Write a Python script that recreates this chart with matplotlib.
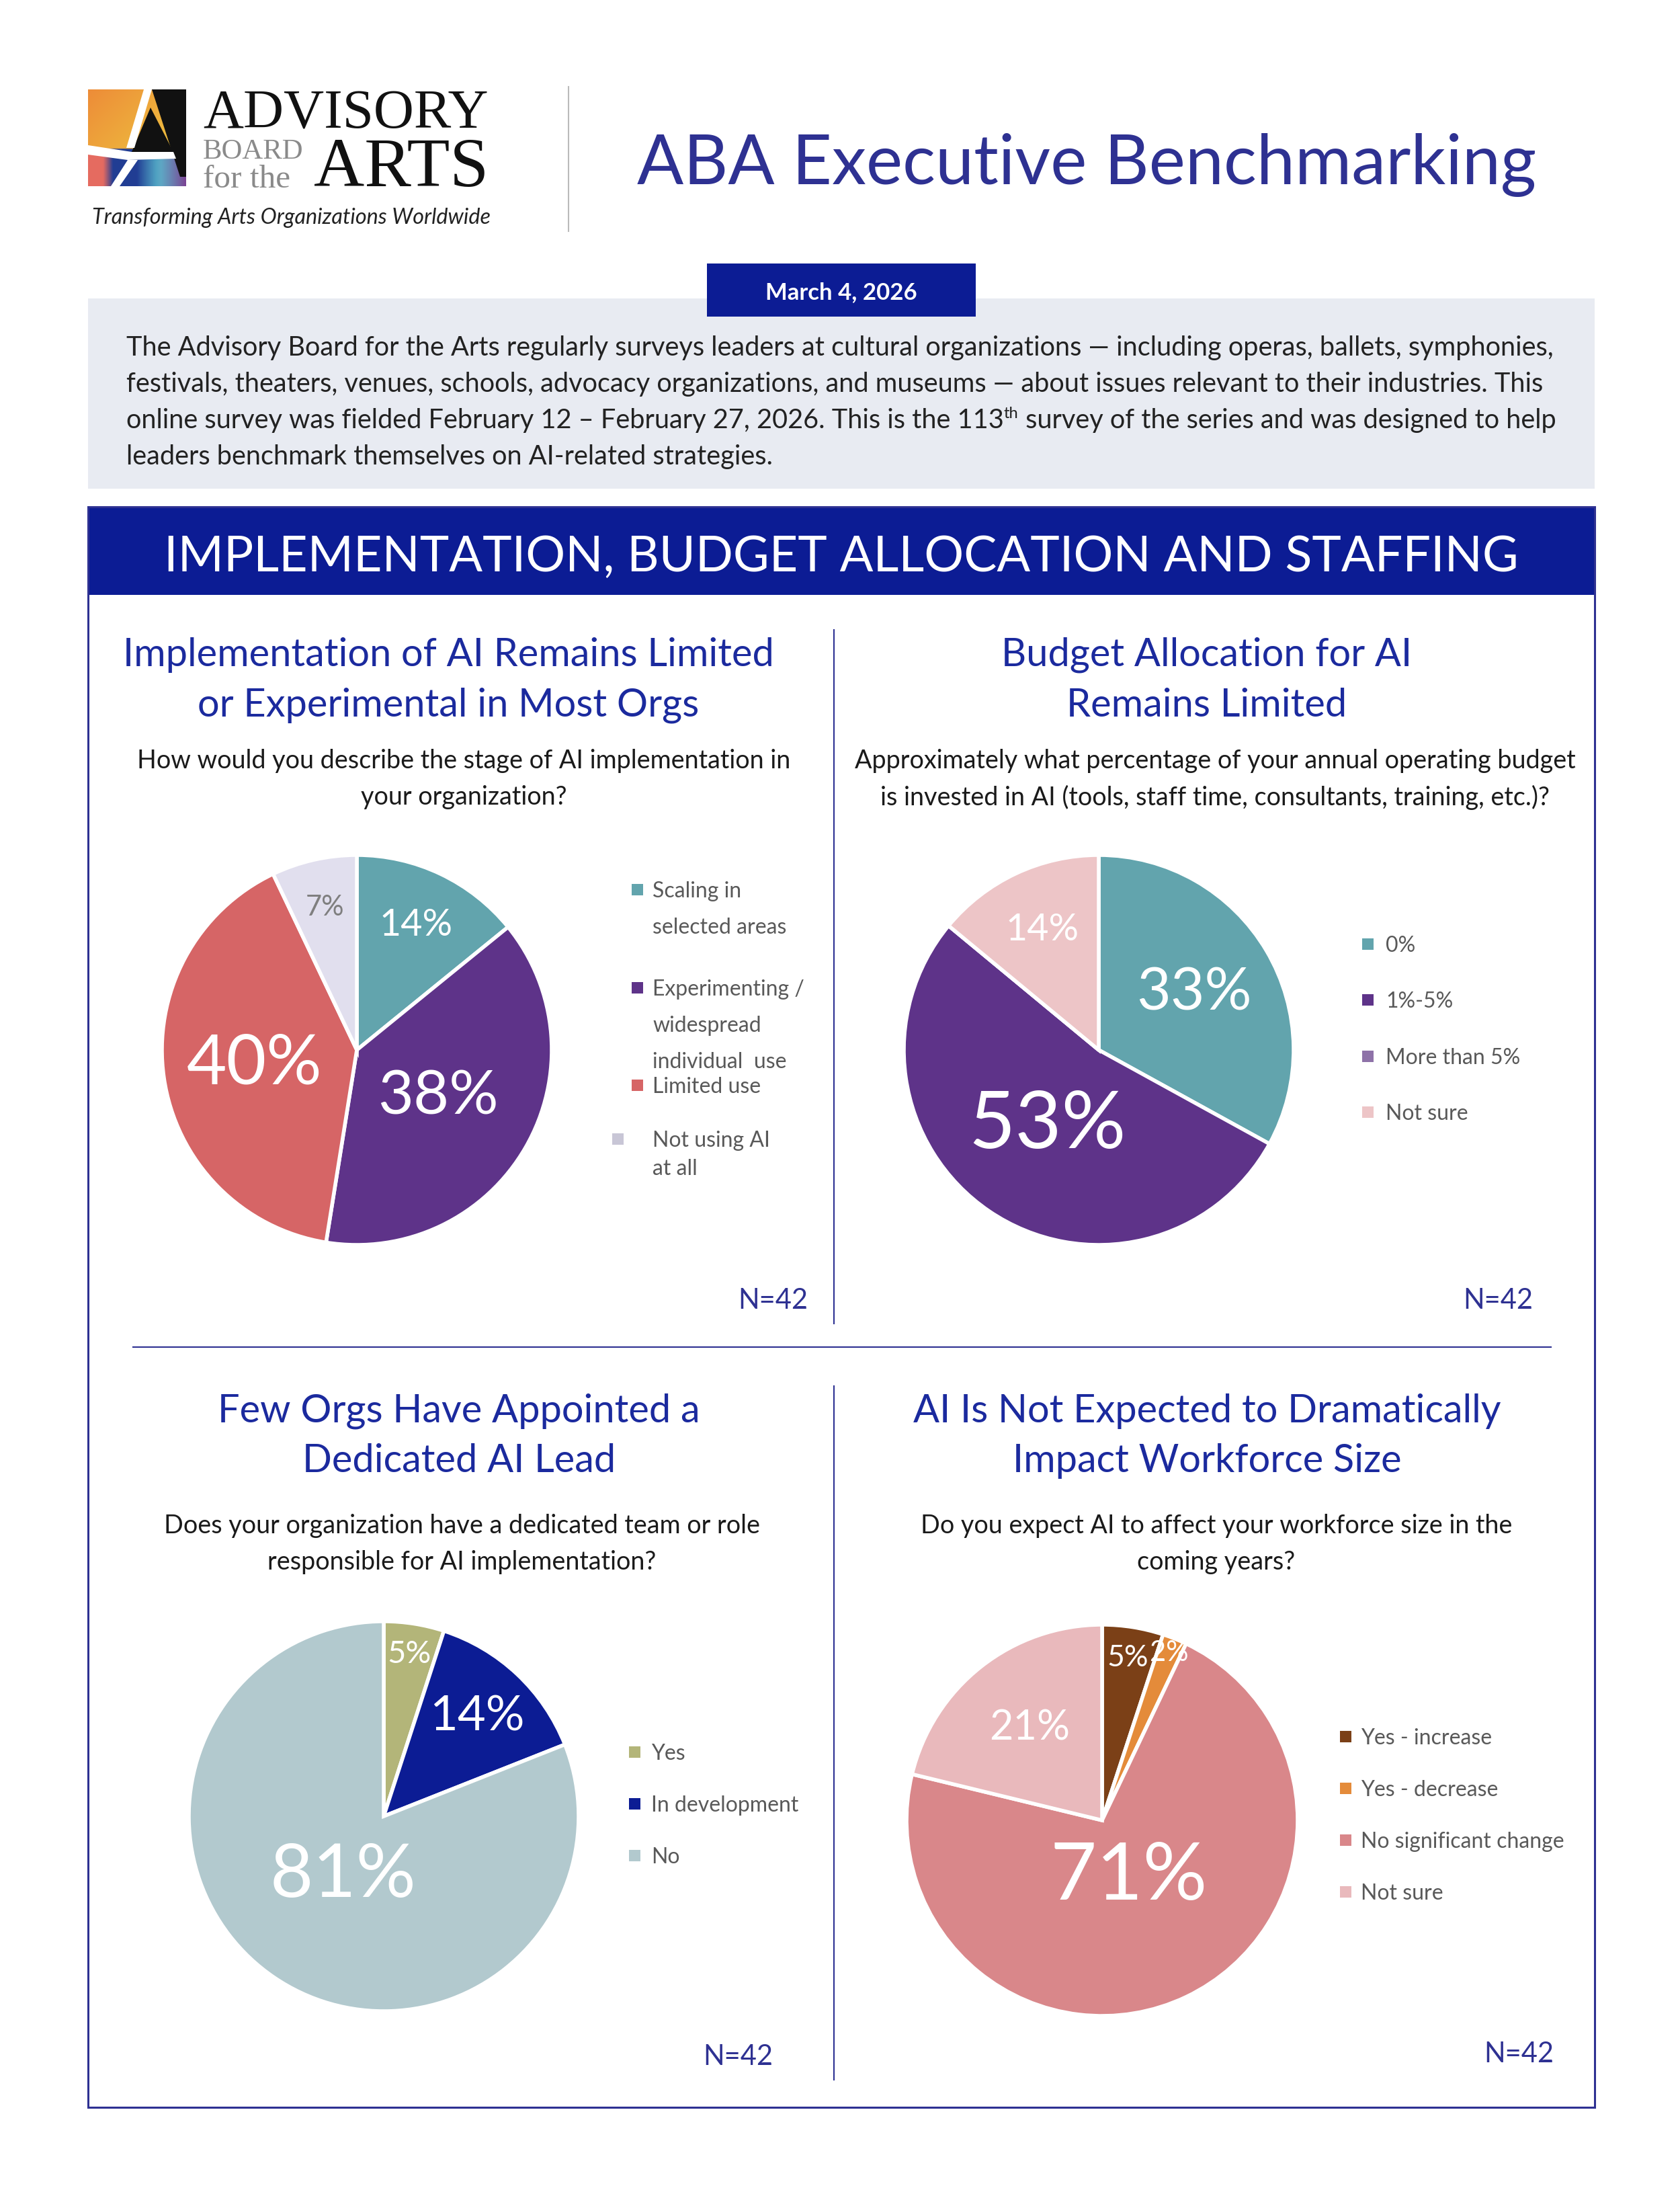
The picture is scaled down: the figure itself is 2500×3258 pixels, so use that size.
import numpy as np
import matplotlib
matplotlib.use('Agg')
import matplotlib.pyplot as plt
from matplotlib.patches import Rectangle, Polygon

plt.rcParams['font.family'] = ['Lato', 'DejaVu Sans']

W, H, DPI = 2500, 3258, 100

# ---------------- data ----------------
impl_categories = ['Scaling in\nselected areas', 'Experimenting /\nwidespread\nindividual  use',
                   'Limited use', 'Not using AI\nat all']
impl_values = [14, 38, 40, 7]

budget_categories = ['0%', '1%-5%', 'More than 5%', 'Not sure']
budget_values = [33, 53, 0, 14]

lead_categories = ['Yes', 'In development', 'No']
lead_values = [5, 14, 81]

work_categories = ['Yes - increase', 'Yes - decrease', 'No significant change', 'Not sure']
work_values = [5, 2, 71, 21]

n_respondents = [42, 42, 42, 42]

# ---------------- styles ----------------
impl_colors = ['#62A4AD', '#5E3389', '#D66566', '#E1DFEE']
budget_colors = ['#62A4AD', '#5E3389', '#8E72A8', '#EDC5C7']
lead_colors = ['#B3B579', '#0C1C94', '#B2C9CE']
work_colors = ['#7B4017', '#E48B3A', '#D9878A', '#E9B9BC']

NAVY = '#0C1C94'
INDIGO = '#2E3192'
TITLE_BLUE = '#1B2A9E'
LEG_GRAY = '#595959'

fig = plt.figure(figsize=(W / DPI, H / DPI), dpi=DPI)
fig.patch.set_facecolor('white')
bg = fig.add_axes([0, 0, 1, 1])
bg.set_xlim(0, W)
bg.set_ylim(H, 0)
bg.set_autoscale_on(False)
bg.axis('off')
renderer = fig.canvas.get_renderer()


def fit(t, target):
    bb = t.get_window_extent(renderer=renderer)
    t.set_fontsize(t.get_fontsize() * target / bb.width)
    return t.get_fontsize()


# ---------------- logo ----------------
ny, nx = 80, 80
yy, xx = np.mgrid[0:1:ny * 1j, 0:1:nx * 1j]
img = np.zeros((ny, nx, 3))
orange = np.array([0.93, 0.55, 0.22])
yellow = np.array([0.93, 0.78, 0.25])
coral = np.array([0.90, 0.42, 0.38])
blue = np.array([0.13, 0.24, 0.58])
teal = np.array([0.35, 0.72, 0.80])
purple = np.array([0.48, 0.27, 0.58])
topmask = yy < 0.62
for c in range(3):
    topc = np.clip(orange[c] + (yellow[c] - orange[c]) * (0.6 * xx + 0.6 * yy), 0, 1)
    w1 = np.clip(1 - xx / 0.25, 0, 1)
    w2 = np.clip(1 - np.abs(xx - 0.45) / 0.3, 0, 1)
    w3 = np.clip(1 - np.abs(xx - 0.75) / 0.25, 0, 1)
    w4 = np.clip((xx - 0.7) / 0.3, 0, 1)
    s = w1 + w2 + w3 + w4 + 1e-6
    botc = (coral[c] * w1 + blue[c] * w2 + teal[c] * w3 + purple[c] * w4) / s
    img[..., c] = np.where(topmask, topc, botc)
bg.imshow(img, extent=(131, 277, 277, 133), aspect='auto', zorder=1, interpolation='bilinear')
# black A strokes
bg.add_patch(Polygon([(226, 133), (277, 133), (277, 263), (268, 263)], closed=True,
                     facecolor='#111111', edgecolor='none', zorder=2))
bg.add_patch(Polygon([(224, 160), (258, 226), (196, 226)], closed=True,
                     facecolor='#111111', edgecolor='none', zorder=2))
# white gaps
bg.add_patch(Polygon([(214, 133), (226, 133), (200, 220), (188, 220)], closed=True,
                     facecolor='white', edgecolor='none', zorder=3))
bg.add_patch(Polygon([(131, 216), (196, 226), (258, 226), (262, 236), (190, 238), (131, 230)],
                     closed=True, facecolor='white', edgecolor='none', zorder=3))
bg.add_patch(Polygon([(190, 238), (205, 238), (178, 277), (165, 277)], closed=True,
                     facecolor='white', edgecolor='none', zorder=3))

SERIF = ['Liberation Serif', 'DejaVu Serif']
t = bg.text(302, 190, 'ADVISORY', family=SERIF, fontsize=56,
            color='#111111', ha='left', va='baseline')
fit(t, 425)
t = bg.text(302, 236, 'BOARD', family=SERIF, fontsize=24,
            color='#8A8A8A', ha='left', va='baseline')
fit(t, 150)
t = bg.text(302, 279, 'for the', family=SERIF, fontsize=24,
            color='#8A8A8A', ha='left', va='baseline')
fit(t, 130)
t = bg.text(467, 277, 'ARTS', family=SERIF, fontsize=78,
            color='#111111', ha='left', va='baseline')
fit(t, 260)
t = bg.text(137, 333, 'Transforming Arts Organizations Worldwide', fontsize=22, style='italic',
            color='#222222', ha='left', va='baseline')
fit(t, 592)
bg.plot([846, 846], [129, 344], color='#BBBBBB', lw=1.5)

t = bg.text(1617, 236, 'ABA Executive Benchmarking', fontsize=78, color=INDIGO,
            ha='center', va='center_baseline')
fit(t, 1339)

# ---------------- intro box ----------------
bg.add_patch(Rectangle((131, 444), 2242, 283, facecolor='#E8EBF2', edgecolor='none', zorder=1))
bg.add_patch(Rectangle((1052, 392), 400, 79, facecolor=NAVY, edgecolor='none', zorder=2))
bg.text(1252, 432, 'March 4, 2026', fontsize=25, color='white', weight='bold',
        ha='center', va='center_baseline', zorder=3)

para_x = 188
para_base = [529, 583, 637, 691]
t1 = bg.text(para_x, para_base[0],
             'The Advisory Board for the Arts regularly surveys leaders at cultural organizations \u2014 '
             'including operas, ballets, symphonies,', fontsize=26, color='#222222',
             ha='left', va='baseline', zorder=3)
pfs = fit(t1, 2123)
bg.text(para_x, para_base[1],
        'festivals, theaters, venues, schools, advocacy organizations, and museums \u2014 about issues '
        'relevant to their industries. This', fontsize=pfs, color='#222222', ha='left', va='baseline', zorder=3)
t3 = bg.text(para_x, para_base[2],
             'online survey was fielded February 12 \u2013 February 27, 2026. This is the 113',
             fontsize=pfs, color='#222222', ha='left', va='baseline', zorder=3)
th = bg.annotate('th', xy=(1, 0), xycoords=t3, xytext=(0, pfs * 0.45), textcoords='offset points',
                 fontsize=pfs * 0.6, color='#222222', ha='left', va='bottom', zorder=3)
bg.annotate(' survey of the series and was designed to help', xy=(1, 0), xycoords=(th, t3),
            fontsize=pfs, color='#222222', ha='left', va='bottom', zorder=3)
bg.text(para_x, para_base[3], 'leaders benchmark themselves on AI-related strategies.',
        fontsize=pfs, color='#222222', ha='left', va='baseline', zorder=3)

# ---------------- section frame ----------------
bg.add_patch(Rectangle((131, 754), 2242, 2381, facecolor='none', edgecolor=INDIGO, lw=2.2, zorder=4))
bg.add_patch(Rectangle((131, 754), 2242, 131, facecolor=NAVY, edgecolor='none', zorder=3))
t = bg.text(1252, 823, 'IMPLEMENTATION, BUDGET ALLOCATION AND STAFFING', fontsize=60, color='white',
            ha='center', va='center_baseline', zorder=5)
fit(t, 2016)
bg.plot([1241, 1241], [937, 1969], color=INDIGO, lw=1.5)
bg.plot([1241, 1241], [2062, 3094], color=INDIGO, lw=1.5)
bg.plot([198, 2308], [2004, 2004], color=INDIGO, lw=1.5)

# ---------------- panel titles / questions ----------------
titles = [
    (667, [969, 1044], ['Implementation of AI Remains Limited', 'or Experimental in Most Orgs']),
    (1796, [969, 1044], ['Budget Allocation for AI', 'Remains Limited']),
    (683, [2094, 2169], ['Few Orgs Have Appointed a', 'Dedicated AI Lead']),
    (1796, [2094, 2169], ['AI Is Not Expected to Dramatically', 'Impact Workforce Size']),
]
t = bg.text(0, 0, titles[0][2][0], fontsize=40)
tfs = fit(t, 969)
t.remove()
for cx, ys, lines in titles:
    for y, s in zip(ys, lines):
        bg.text(cx, y, s, fontsize=tfs, color=TITLE_BLUE, ha='center', va='center_baseline')

questions = [
    (690, [1129, 1183], ['How would you describe the stage of AI implementation in', 'your organization?']),
    (1808, [1129, 1183], ['Approximately what percentage of your annual operating budget',
                          'is invested in AI (tools, staff time, consultants, training, etc.)?']),
    (687, [2266, 2320], ['Does your organization have a dedicated team or role',
                         'responsible for AI implementation?']),
    (1810, [2266, 2320], ['Do you expect AI to affect your workforce size in the', 'coming years?']),
]
t = bg.text(0, 0, questions[1][2][0], fontsize=26)
qfs = fit(t, 1073)
t.remove()
for cx, ys, lines in questions:
    for y, s in zip(ys, lines):
        bg.text(cx, y, s, fontsize=qfs, color='#1A1A1A', ha='center', va='center_baseline')


# ---------------- pies ----------------
def draw_pie(cx, cy, R, values, colors, lab_cfg, lab_colors):
    pad = 1.03
    ax = fig.add_axes([(cx - R * pad) / W, 1 - (cy + R * pad) / H, 2 * R * pad / W, 2 * R * pad / H])
    wedges, _ = ax.pie(values, colors=colors, startangle=90, counterclock=False, radius=1,
                       wedgeprops=dict(edgecolor='white', linewidth=4))
    ax.set_xlim(-pad, pad)
    ax.set_ylim(-pad, pad)
    ax.set_aspect('equal')
    ax.axis('off')
    for w, v, cfg, tc in zip(wedges, values, lab_cfg, lab_colors):
        if cfg is None:
            continue
        r, fs = cfg
        ang = np.deg2rad((w.theta1 + w.theta2) / 2)
        ax.text(r * np.cos(ang), r * np.sin(ang), f'{v}%', ha='center', va='center',
                fontsize=fs, color=tc)
    return ax


draw_pie(531, 1562, 290, impl_values, impl_colors,
         [(0.71, 40), (0.48, 66), (0.53, 74), (0.75, 30)],
         ['white', 'white', 'white', '#7F7F7F'])
draw_pie(1635, 1562, 290, budget_values, budget_colors,
         [(0.57, 63), (0.47, 86), None, (0.68, 40)],
         ['white'] * 4)
draw_pie(571, 2702, 290, lead_values, lead_colors,
         [(0.84, 34), (0.70, 52), (0.37, 80)],
         ['white'] * 3)
draw_pie(1640, 2708, 291, work_values, work_colors,
         [(0.84, 32), (0.92, 30), (0.32, 86), (0.60, 44)],
         ['white'] * 4)


# ---------------- legends ----------------
def draw_legend(mx, tx, ys, gaps, labels, colors, fs=23, ms=17):
    for m, y, g, lab, c in zip(mx, ys, gaps, labels, colors):
        bg.add_patch(Rectangle((m - ms / 2, y - ms / 2), ms, ms, facecolor=c, edgecolor='none'))
        for i, line in enumerate(lab.split('\n')):
            bg.text(tx, y + i * g, line, fontsize=fs, color=LEG_GRAY, ha='left', va='center_baseline')


draw_legend([948, 948, 948, 919], 971, [1323, 1469, 1614, 1694], [54, 54, 54, 42],
            impl_categories, ['#62A4AD', '#5E3389', '#D66566', '#C8C6D6'])
draw_legend([2035] * 4, 2062, [1404, 1487, 1571, 1654], [0] * 4, budget_categories, budget_colors)
draw_legend([944] * 3, 969, [2606, 2683, 2760], [0] * 3, lead_categories, lead_colors)
draw_legend([2002] * 4, 2025, [2583, 2660, 2737, 2814], [0] * 4, work_categories, work_colors)

# ---------------- N labels ----------------
n_pos = [(1150, 1931), (2229, 1931), (1098, 3056), (2260, 3052)]
for (x, y), n in zip(n_pos, n_respondents):
    bg.text(x, y, f'N={n}', fontsize=30, color=INDIGO, ha='center', va='center_baseline')

fig.savefig('out.png', dpi=DPI, facecolor='white')
